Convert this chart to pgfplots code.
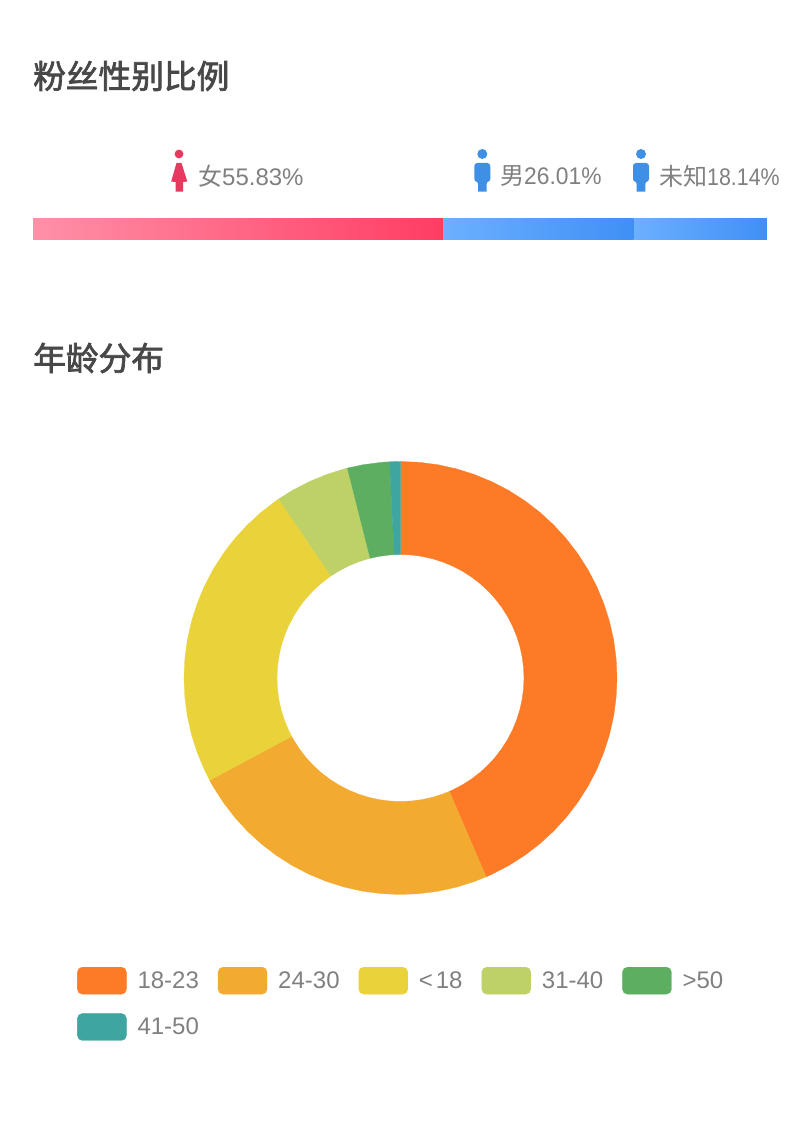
\documentclass[border=0pt]{standalone}
\usepackage{fontspec}
\setmainfont{Liberation Sans}
\newfontfamily\cjk{Noto Sans CJK SC}
\newfontfamily\cjkt[FakeBold=2.2]{Noto Sans CJK SC}
\usepackage{pgfplots}
\pgfplotsset{compat=1.18}
\usepgfplotslibrary{polar}
\definecolor{title}{HTML}{484848}
\definecolor{txt}{HTML}{808080}
\definecolor{sA}{HTML}{FD7A26}
\definecolor{sB}{HTML}{F3AA30}
\definecolor{sC}{HTML}{EAD23A}
\definecolor{sD}{HTML}{BDD166}
\definecolor{sE}{HTML}{5DAE60}
\definecolor{sF}{HTML}{3EA5A0}
\definecolor{pinkL}{HTML}{FF90A8}
\definecolor{pinkR}{HTML}{FF3D63}
\definecolor{blueL}{HTML}{6CB0FF}
\definecolor{blueR}{HTML}{3F8FF5}
\definecolor{iconF}{HTML}{E8385F}
\definecolor{iconM}{HTML}{3F8FE5}
\begin{document}
\begin{tikzpicture}[x=1pt,y=1pt]
\path[use as bounding box] (0,0) rectangle (800,1125);

% titles
\node[anchor=west,inner sep=0,text=title] at (33,1125-76) {\cjkt\fontsize{32.7pt}{34pt}\selectfont 粉丝性别比例};
\node[anchor=west,inner sep=0,text=title] at (33,1125-358) {\cjkt\fontsize{32.7pt}{34pt}\selectfont 年龄分布};

% gender labels
\node[anchor=west,inner sep=0,text=txt] at (198,1125-176) {\fontsize{24pt}{26pt}\selectfont{\cjk 女}55.83\%};
\node[anchor=west,inner sep=0,text=txt] at (500,1125-176) {\fontsize{24pt}{26pt}\selectfont{\cjk 男}\scalebox{0.95}[1]{26.01\%}};
\node[anchor=west,inner sep=0,text=txt] at (659,1125-176) {\fontsize{24pt}{26pt}\selectfont{\cjk 未知}\scalebox{0.89}[1]{18.14\%}};

% icons
\fill[iconF] (179,1125-154) circle (4.4);
\fill[iconF] (176.5,1125-163) -- (181.5,1125-163) -- (187.3,1125-181.5) -- (183,1125-182) -- (183,1125-191.7) -- (175.5,1125-191.7) -- (175.5,1125-182) -- (171.2,1125-181.5) -- cycle;
\foreach \c in {482.3,641}{
  \fill[iconM] (\c,1125-154) circle (5);
  \fill[iconM,rounded corners=3pt] (\c-8,1125-163) rectangle (\c+8,1125-182);
  \fill[iconM] (\c-7.5,1125-176) -- (\c+7.5,1125-176) -- (\c+4.3,1125-184) -- (\c+4.3,1125-191.7) -- (\c-4.3,1125-191.7) -- (\c-4.3,1125-184) -- cycle;
}

% gender bar, in a page-sized axis: x in percent, y in pixels from the bottom
\begin{axis}[
    at={(0,0)},anchor=south west,
    width=800pt,height=1125pt,scale only axis,
    xbar stacked,bar width=20.5pt,
    xmin=-4.496,xmax=104.496,ymin=0,ymax=1125,
    axis lines=none,
    ]
\addplot[draw=none,left color=pinkL,right color=pinkR] coordinates {(55.83,895.75)};
\addplot[draw=none,left color=blueL,right color=blueR] coordinates {(26.01,895.75)};
\addplot[draw=none,left color=blueL,right color=blueR] coordinates {(18.14,895.75)};
\end{axis}

% age donut
\begin{polaraxis}[
    at={(400.5,1125-678)},anchor=center,
    width=433pt,height=433pt,scale only axis,
    xmin=-270,xmax=90,ymin=0,ymax=216.5,
    axis lines=none,clip=false,
    legend columns=5,
    legend cell align=left,
    legend image code/.code={\fill[#1,rounded corners=5pt] (0pt,-13.5pt) rectangle (49pt,13.5pt);},
    legend style={at={(-0.247,-0.167)},anchor=north west,draw=none,fill=none,inner sep=0pt,
      font=\fontsize{24pt}{26pt}\selectfont,text=txt,
      row sep=19pt,
      /tikz/every odd column/.append style={column sep=8pt},
      /tikz/every even column/.append style={column sep=16pt},
      nodes={inner sep=3pt}},
    ]
\addplot[sA,fill=sA,line width=0.3pt] coordinates {
 (90,216.5)(85,216.5)(80,216.5)(75,216.5)(70,216.5)(65,216.5)(60,216.5)(55,216.5)(50,216.5)(45,216.5)(40,216.5)(35,216.5)(30,216.5)(25,216.5)(20,216.5)(15,216.5)(10,216.5)(5,216.5)(0,216.5)
 (-5,216.5)(-10,216.5)(-15,216.5)(-20,216.5)(-25,216.5)(-30,216.5)(-35,216.5)(-40,216.5)(-45,216.5)(-50,216.5)(-55,216.5)(-60,216.5)(-65,216.5)(-66.7,216.5)
 (-66.7,123.5)(-65,123.5)(-60,123.5)(-55,123.5)(-50,123.5)(-45,123.5)(-40,123.5)(-35,123.5)(-30,123.5)(-25,123.5)(-20,123.5)(-15,123.5)(-10,123.5)(-5,123.5)
 (0,123.5)(5,123.5)(10,123.5)(15,123.5)(20,123.5)(25,123.5)(30,123.5)(35,123.5)(40,123.5)(45,123.5)(50,123.5)(55,123.5)(60,123.5)(65,123.5)(70,123.5)(75,123.5)(80,123.5)(85,123.5)(90,123.5)
} --cycle;
\addlegendentry{18-23}
\addplot[sB,fill=sB,line width=0.3pt] coordinates {
 (-66.7,216.5)(-70,216.5)(-75,216.5)(-80,216.5)(-85,216.5)(-90,216.5)(-95,216.5)(-100,216.5)(-105,216.5)(-110,216.5)(-115,216.5)(-120,216.5)(-125,216.5)(-130,216.5)(-135,216.5)(-140,216.5)(-145,216.5)(-150,216.5)(-151.8,216.5)
 (-151.8,123.5)(-150,123.5)(-145,123.5)(-140,123.5)(-135,123.5)(-130,123.5)(-125,123.5)(-120,123.5)(-115,123.5)(-110,123.5)(-105,123.5)(-100,123.5)(-95,123.5)(-90,123.5)(-85,123.5)(-80,123.5)(-75,123.5)(-70,123.5)(-66.7,123.5)
} --cycle;
\addlegendentry{24-30}
\addplot[sC,fill=sC,line width=0.3pt] coordinates {
 (-151.8,216.5)(-155,216.5)(-160,216.5)(-165,216.5)(-170,216.5)(-175,216.5)(-180,216.5)(-185,216.5)(-190,216.5)(-195,216.5)(-200,216.5)(-205,216.5)(-210,216.5)(-215,216.5)(-220,216.5)(-225,216.5)(-230,216.5)(-235,216.5)(-235.8,216.5)
 (-235.8,123.5)(-235,123.5)(-230,123.5)(-225,123.5)(-220,123.5)(-215,123.5)(-210,123.5)(-205,123.5)(-200,123.5)(-195,123.5)(-190,123.5)(-185,123.5)(-180,123.5)(-175,123.5)(-170,123.5)(-165,123.5)(-160,123.5)(-155,123.5)(-151.8,123.5)
} --cycle;
\addlegendentry{<\kern3pt 18}
\addplot[sD,fill=sD,line width=0.3pt] coordinates {
 (-235.8,216.5)(-240,216.5)(-245,216.5)(-250,216.5)(-255,216.5)(-255.8,216.5)
 (-255.8,123.5)(-255,123.5)(-250,123.5)(-245,123.5)(-240,123.5)(-235.8,123.5)
} --cycle;
\addlegendentry{31-40}
\addplot[sE,fill=sE,line width=0.3pt] coordinates {
 (-255.8,216.5)(-260,216.5)(-265,216.5)(-267.1,216.5)
 (-267.1,123.5)(-265,123.5)(-260,123.5)(-255.8,123.5)
} --cycle;
\addlegendentry{>50}
\addplot[sF,fill=sF,line width=0.3pt] coordinates {
 (-267.1,216.5)(-270,216.5)
 (-270,123.5)(-267.1,123.5)
} --cycle;
\addlegendentry{41-50}
\end{polaraxis}
\end{tikzpicture}
\end{document}
